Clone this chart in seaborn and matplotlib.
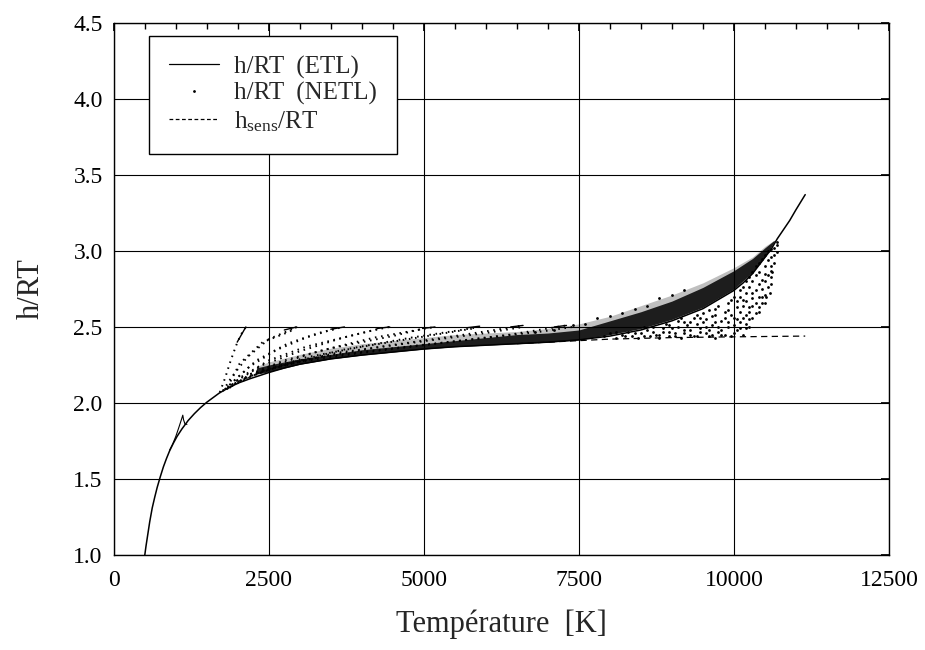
import numpy as np
import pandas as pd
import seaborn as sns
import matplotlib.pyplot as plt
from matplotlib.lines import Line2D
from matplotlib.ticker import MultipleLocator

# equilibrium curve h/RT (ETL)
etl_T = [500, 520, 550, 580, 620, 660, 700, 750, 800, 850, 900, 960, 1020, 1100,
         1200, 1300, 1400, 1500, 1600, 1700, 1850, 2000, 2200, 2500, 2750,
         3000, 3500, 4000, 4500, 5000, 5500, 6000, 6500, 7000, 7500, 8000, 8500,
         9000, 9500, 10000, 10150, 10300, 10450, 10600, 10700, 10800, 10900, 11000, 11150]
etl_h = [1.00, 1.06, 1.14, 1.22, 1.31, 1.38, 1.445, 1.515, 1.58, 1.635, 1.685, 1.735, 1.78, 1.83,
         1.885, 1.93, 1.97, 2.005, 2.035, 2.065, 2.10, 2.13, 2.16, 2.20, 2.23,
         2.255, 2.29, 2.315, 2.335, 2.355, 2.37, 2.38, 2.39, 2.40, 2.415, 2.44, 2.48,
         2.54, 2.62, 2.74, 2.79, 2.85, 2.93, 3.01, 3.08, 3.14, 3.20, 3.27, 3.37]

# sensible part h_sens/RT (only visible where it leaves the ETL curve)
sens_T = [6500, 7000, 7500, 8000, 9000, 10000, 11150]
sens_h = [2.39, 2.40, 2.41, 2.42, 2.43, 2.435, 2.44]

# NETL: dense band of points (core and speckled halo)
band_T = [2300, 2500, 3000, 3500, 4000, 4500, 5000, 5500, 6000, 6500, 7000, 7500,
          8000, 8500, 9000, 9500, 10000, 10300, 10500, 10650]
band_lo = [2.19, 2.205, 2.255, 2.29, 2.315, 2.335, 2.355, 2.37, 2.38, 2.39, 2.40, 2.415,
           2.45, 2.49, 2.55, 2.63, 2.75, 2.86, 2.96, 3.06]
band_hi = [2.23, 2.25, 2.29, 2.32, 2.35, 2.37, 2.39, 2.41, 2.43, 2.45, 2.46, 2.48,
           2.54, 2.60, 2.67, 2.76, 2.87, 2.95, 3.02, 3.07]
halo_hi = [2.24, 2.27, 2.32, 2.36, 2.39, 2.41, 2.43, 2.45, 2.46, 2.47, 2.49, 2.52,
           2.57, 2.64, 2.71, 2.79, 2.89, 2.96, 3.03, 3.07]

# NETL: dotted trajectories fanning out from the ETL curve
fan_T = [
    [1710, 1800, 1870, 1930, 1985, 2050, 2100, 2130],
    [1760, 1830, 2030, 2400, 2840, 2950],
    [1760, 1900, 2150, 2500, 2900],
    [1790, 1870, 2190, 2630, 3100, 3500, 3700],
    [1800, 1950, 2300, 2800, 3300, 3600],
    [1820, 2000, 2400, 3000, 3700, 4200, 4450],
    [1830, 2050, 2500, 3100, 3900, 4300],
    [1850, 2100, 2600, 3300, 4200, 4900, 5180],
    [1870, 2200, 2750, 3500, 4500, 5000],
    [1900, 2300, 2900, 3700, 4800, 5600, 5900],
    [1950, 2400, 3100, 4000, 5200, 5800],
    [2000, 2500, 3300, 4300, 5500, 6300, 6600],
    [2100, 2700, 3600, 4700, 6000, 6600],
    [2200, 3000, 4000, 5200, 6400, 7000, 7300],
    [2400, 3300, 4500, 5800, 6900, 7400],
]
fan_h = [
    [2.07, 2.17, 2.26, 2.33, 2.39, 2.45, 2.48, 2.50],
    [2.08, 2.10, 2.26, 2.40, 2.47, 2.50],
    [2.08, 2.17, 2.30, 2.42, 2.49],
    [2.09, 2.12, 2.24, 2.35, 2.43, 2.48, 2.50],
    [2.09, 2.15, 2.28, 2.39, 2.46, 2.49],
    [2.09, 2.15, 2.25, 2.34, 2.43, 2.48, 2.50],
    [2.095, 2.17, 2.28, 2.37, 2.45, 2.49],
    [2.10, 2.16, 2.25, 2.34, 2.43, 2.48, 2.50],
    [2.10, 2.19, 2.28, 2.36, 2.44, 2.49],
    [2.11, 2.19, 2.27, 2.35, 2.43, 2.48, 2.50],
    [2.13, 2.21, 2.30, 2.37, 2.45, 2.49],
    [2.14, 2.22, 2.30, 2.37, 2.44, 2.49, 2.51],
    [2.16, 2.25, 2.33, 2.39, 2.46, 2.50],
    [2.19, 2.27, 2.33, 2.39, 2.45, 2.49, 2.51],
    [2.22, 2.30, 2.36, 2.42, 2.47, 2.50],
]

# NETL: short solid hooks at the top of the trajectories
hook_T0 = [1990, 2750, 3500, 4250, 4980, 5700, 6400, 7100]
hook_T1 = [2130, 2950, 3720, 4450, 5180, 5900, 6600, 7300]
hook_h0 = [2.40, 2.48, 2.485, 2.49, 2.49, 2.495, 2.50, 2.50]
hook_h1 = [2.50, 2.50, 2.50, 2.50, 2.50, 2.505, 2.51, 2.51]

# NETL: spike near 1000 K
spike_T = [900, 950, 1000, 1050, 1090, 1113, 1125, 1150, 1180]
spike_h = [1.69, 1.73, 1.78, 1.84, 1.89, 1.92, 1.89, 1.86, 1.86]

# NETL: scattered points at high temperature
scat_T = [7900, 8000, 8100, 8200, 8300, 8350, 8450, 8500, 8600, 8650, 8700, 8750,
          8800, 8850, 8900, 8950, 9000, 9050, 9100, 9150, 9200, 9250, 9300, 9350,
          9400, 9450, 9500, 9500, 9550, 9600, 9650, 9650, 9700, 9750, 9800, 9800,
          9850, 9900, 9900, 9950, 10000, 10000, 10050, 10050, 10100, 10100, 10150,
          10150, 10200, 10200, 10250, 10250, 10300, 10300, 10300, 10350, 10400,
          10400, 10400, 10450, 10500, 10500, 10500, 10550, 10600, 10600, 10600,
          10650, 10700, 10200, 9700, 9300, 8850, 10580,
          7400, 7600, 7800, 8000, 8200, 8400, 8600, 8800, 9000, 9200, 7100, 6800,
          8100, 8250, 8400, 8550, 8550, 8700, 8800, 8950, 8950, 9050, 9100, 9200,
          9200, 9300, 9350, 9400, 9450, 9450, 9550, 9550, 9600, 9650, 9700, 9700,
          9750, 9750, 9800, 9850, 9850, 9900, 9900, 9950, 9950, 10000, 10000, 10050,
          10050, 10100, 10100, 10100, 10150, 10150, 10150, 10200, 10200, 10200, 10250,
          10250, 10250, 10250, 10300, 10300, 10300, 10350, 10350, 10350, 10350, 10400,
          10400, 10400, 10450, 10450, 10450, 10450, 10500, 10500, 10500, 10520, 10550,
          10550, 10550, 10600, 10600, 10600, 10620, 10650, 10650, 10700, 10700, 9600,
          9400, 9150]
scat_h = [2.44, 2.46, 2.43, 2.45, 2.47, 2.44, 2.43, 2.46, 2.48, 2.44, 2.50, 2.45,
          2.43, 2.47, 2.52, 2.44, 2.49, 2.46, 2.54, 2.43, 2.48, 2.51, 2.45, 2.56,
          2.44, 2.49, 2.53, 2.59, 2.46, 2.44, 2.51, 2.57, 2.62, 2.47, 2.54, 2.45,
          2.60, 2.66, 2.50, 2.44, 2.56, 2.70, 2.48, 2.63, 2.53, 2.74, 2.45,
          2.68, 2.58, 2.80, 2.50, 2.63, 2.72, 2.86, 2.56, 2.66, 2.78,
          2.92, 2.60, 2.70, 2.85, 2.97, 2.66, 2.76, 2.90, 3.01, 2.83,
          2.97, 3.04, 2.49, 2.43, 2.53, 2.49, 2.72,
          2.51, 2.52, 2.56, 2.57, 2.59, 2.62, 2.64, 2.69, 2.71, 2.74, 2.48, 2.47,
          2.47, 2.44, 2.46, 2.44, 2.50, 2.47, 2.45, 2.47, 2.51, 2.44, 2.50, 2.46,
          2.53, 2.48, 2.44, 2.52, 2.47, 2.56, 2.50, 2.55, 2.48, 2.45, 2.53, 2.58,
          2.50, 2.64, 2.48, 2.56, 2.45, 2.53, 2.61, 2.58, 2.68, 2.46, 2.51, 2.55,
          2.67, 2.49, 2.60, 2.70, 2.56, 2.64, 2.76, 2.52, 2.67, 2.72, 2.55,
          2.60, 2.76, 2.83, 2.64, 2.69, 2.80, 2.59, 2.74, 2.84, 2.90, 2.63,
          2.70, 2.86, 2.66, 2.75, 2.81, 2.95, 2.71, 2.80, 2.90, 2.70, 2.84,
          2.94, 3.00, 2.78, 2.87, 2.96, 2.86, 2.92, 3.02, 2.99, 3.06, 2.61,
          2.58, 2.56]

sns.set_theme(style="white")
plt.rcParams['font.family'] = ['Liberation Serif', 'DejaVu Serif']
plt.rcParams['mathtext.default'] = 'regular'

fig, ax = plt.subplots(figsize=(9.25, 6.5), dpi=100)
fig.subplots_adjust(left=0.123, right=0.961, bottom=0.146, top=0.965)

ax.grid(True, color='black', lw=0.8)
ax.set_axisbelow(True)

ax.fill_between(band_T, band_lo, halo_hi, color='black', alpha=0.25, lw=0)
ax.fill_between(band_T, band_lo, band_hi, color='black', alpha=0.85, lw=0)
for T, h in zip(fan_T, fan_h):
    ax.plot(T, h, color='black', lw=1.4, ls=(0, (0.8, 2.4)))
for t0, t1, h0, h1 in zip(hook_T0, hook_T1, hook_h0, hook_h1):
    ax.plot([t0, t1], [h0, h1], color='black', lw=1.0)
ax.plot(spike_T, spike_h, color='black', lw=0.8)
sns.scatterplot(x=scat_T, y=scat_h, ax=ax, color='black', s=4, linewidth=0)

sns.lineplot(x=sens_T, y=sens_h, ax=ax, color='black', lw=0.9,
             linestyle=(0, (5, 3.5)))
sns.lineplot(x=etl_T, y=etl_h, ax=ax, color='black', lw=1.1)

ax.set_xlim(0, 12500)
ax.set_ylim(1.0, 4.5)
ax.xaxis.set_major_locator(MultipleLocator(2500))
ax.xaxis.set_minor_locator(MultipleLocator(500))
ax.yaxis.set_major_locator(MultipleLocator(0.5))
ax.yaxis.set_major_formatter(plt.FormatStrFormatter('%.1f'))
ax.tick_params(axis='both', which='both', direction='in', top=True, right=True,
               colors='black', labelsize=17)
ax.tick_params(axis='x', which='major', length=6, pad=11)
ax.tick_params(axis='x', which='minor', length=4)
ax.tick_params(axis='y', which='major', length=6, pad=8)
for s in ax.spines.values():
    s.set_color('black')
    s.set_linewidth(1.0)

ax.set_xlabel('Température  [K]', fontsize=22, labelpad=13)
ax.set_ylabel('h/RT', fontsize=22, labelpad=20)

handles = [
    Line2D([], [], color='black', lw=0.9, label='h/RT  (ETL)'),
    Line2D([], [], color='black', marker='.', markersize=2, ls='none', label='h/RT  (NETL)'),
    Line2D([], [], color='black', lw=0.9, ls=(0, (3, 2)), label='h$_{sens}$/RT'),
]
leg = ax.legend(handles=handles, loc='upper left', bbox_to_anchor=(0.045, 0.976),
                borderaxespad=0, fontsize=18, frameon=True, fancybox=False,
                edgecolor='black', framealpha=1, handlelength=2.0,
                handletextpad=0.6, labelspacing=0.15, borderpad=0.8)
leg.get_frame().set_linewidth(1.0)

fig.savefig('out.png', dpi=100)
